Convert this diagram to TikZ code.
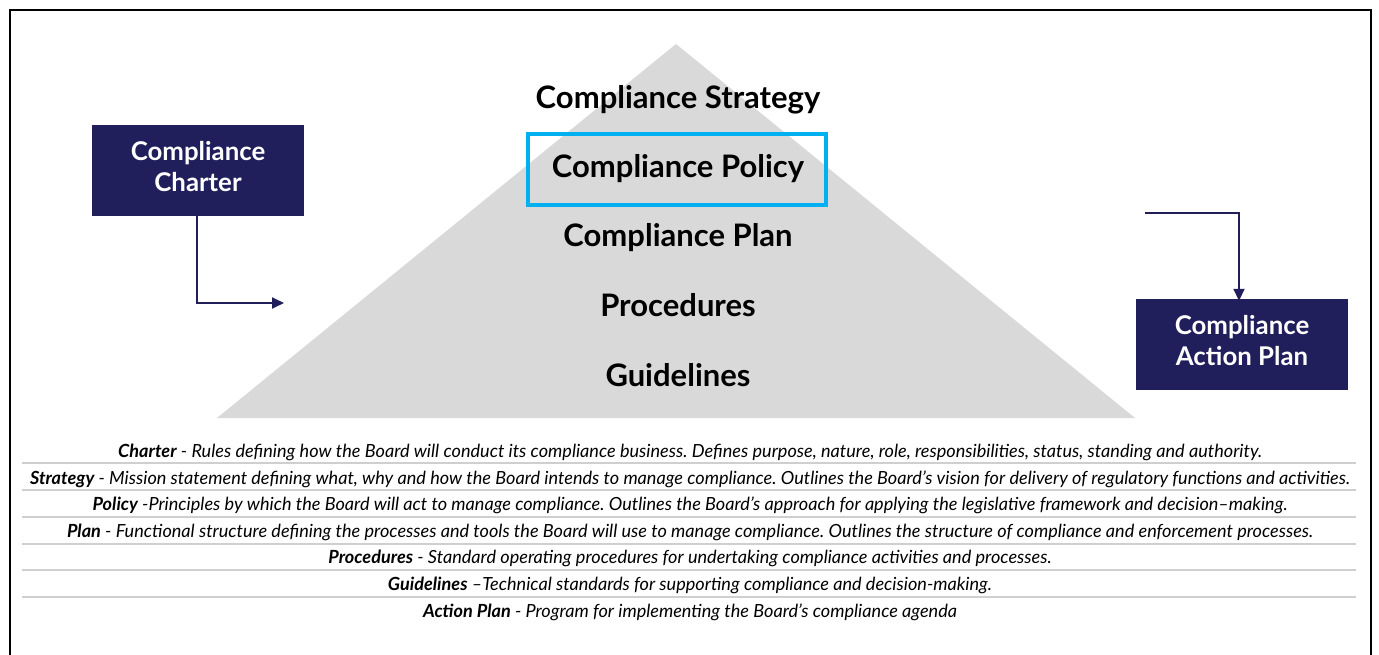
\documentclass[tikz,border=0pt]{standalone}
\usepackage{fontspec}
\setmainfont{Lato}
\usetikzlibrary{arrows.meta}
\frenchspacing
\definecolor{navy}{HTML}{201F5C}
\definecolor{pyr}{HTML}{D9D9D9}
\definecolor{policyblue}{HTML}{00B0F0}
\definecolor{rule}{HTML}{CFCFCF}
\tikzset{
  level/.style={font=\bfseries\fontsize{31}{36}\selectfont, text=black, inner sep=0pt},
  navybox/.style={fill=navy, inner sep=0pt, minimum width=212pt, minimum height=91pt},
  boxtext/.style={text=white, align=center, inner sep=0pt,
    font=\bfseries\fontsize{25.8}{31}\selectfont},
  link/.style={draw=navy, line width=1.8pt, -{Triangle[length=12pt,width=11pt]}},
  desc/.style={font=\itshape\fontsize{18.1}{21}\selectfont, inner sep=0pt, anchor=center},
  sep/.style={draw=rule, line width=1.3pt}
}
\newcommand{\term}[1]{{\bfseries\itshape #1}}
\begin{document}
\begin{tikzpicture}[x=1pt,y=-1pt]
\useasboundingbox (0,0) rectangle (1379,655);
\fill[white] (0,0) rectangle (1379,655);
% outer frame, running past the lower edge
\begin{scope}
\clip (0,0) rectangle (1379,655);
\draw[line width=2pt] (10,10) rectangle (1371,670);
\end{scope}

% pyramid
\fill[pyr] (676,44) -- (1135,418) -- (217,418) -- cycle;

% levels
\node[level] (strategy) at (678,100) {Compliance Strategy};
\node[level] (policy) at (678,169) {Compliance Policy};
\node[level] (plan) at (678,238) {Compliance Plan};
\node[level] (proc) at (678,305) {Procedures};
\node[level] (guide) at (678,375) {Guidelines};
\draw[policyblue, line width=4pt] (528,134) rectangle (826,205);

% side boxes
\node[navybox] (charter) at (198,170.5) {};
\node[boxtext] (chartertext) at ([yshift=4pt]charter.center) {Compliance\\Charter};
\node[navybox] (action) at (1242,344.5) {};
\node[boxtext] (actiontext) at ([yshift=4pt]action.center) {Compliance\\Action Plan};

\coordinate (charterend) at (284,303);
\coordinate (actionstart) at (1145,213);
\draw[link] ([xshift=-1pt,yshift=4pt]charter.south) |- (charterend);
\draw[link] (actionstart) -| ([xshift=-3pt,yshift=-2pt]action.north);

% descriptions
\node[desc] (d1) at (690,452) {\term{Charter} - Rules defining how the Board will conduct its compliance business. Defines purpose, nature, role, responsibilities, status, standing and authority.};
\node[desc] (d2) at (690,479) {\term{Strategy} - Mission statement defining what, why and how the Board intends to manage compliance. Outlines the Board’s vision for delivery of regulatory functions and activities.};
\node[desc] (d3) at (690,505) {\term{Policy} -Principles by which the Board will act to manage compliance. Outlines the Board’s approach for applying the legislative framework and decision–making.};
\node[desc] (d4) at (690,532) {\term{Plan} - Functional structure defining the processes and tools the Board will use to manage compliance. Outlines the structure of compliance and enforcement processes.};
\node[desc] (d5) at (690,558) {\term{Procedures} - Standard operating procedures for undertaking compliance activities and processes.};
\node[desc] (d6) at (690,585) {\term{Guidelines} –Technical standards for supporting compliance and decision-making.};
\node[desc] (d7) at (690,612) {\term{Action Plan} - Program for implementing the Board’s compliance agenda};

\foreach \y in {463,490,517,544,570,597}
  \draw[sep] (22,\y) -- (1356,\y);
\end{tikzpicture}
\end{document}
